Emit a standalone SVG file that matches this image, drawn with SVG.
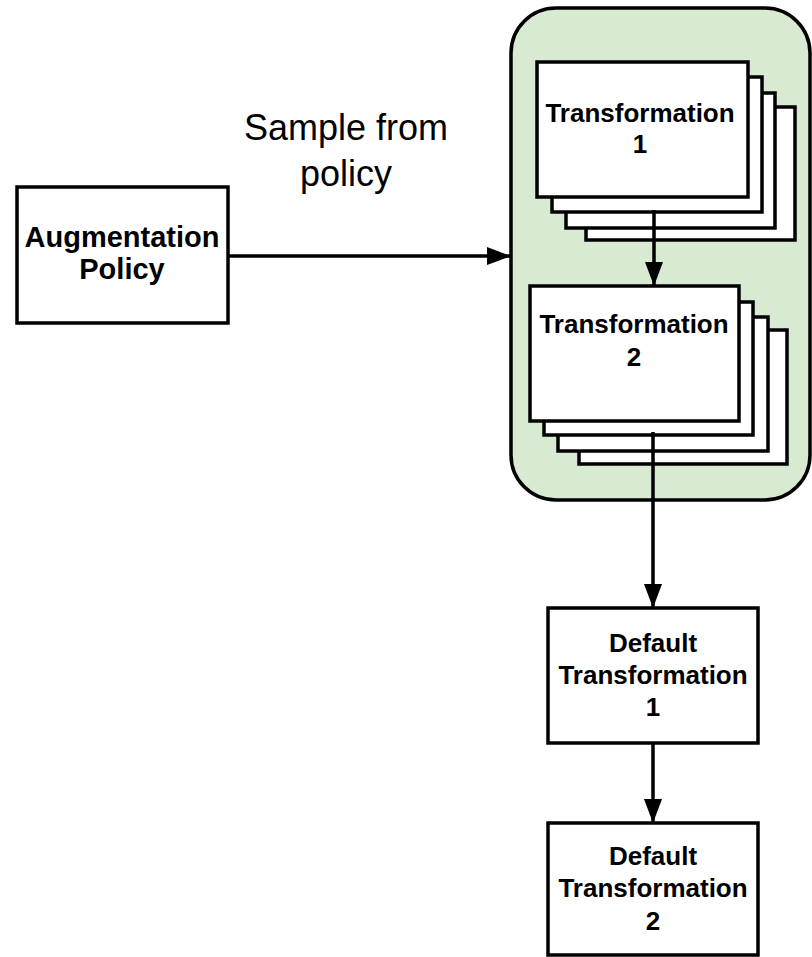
<svg xmlns="http://www.w3.org/2000/svg" width="812" height="957" viewBox="0 0 812 957">
<defs>
<marker id="arr" markerUnits="userSpaceOnUse" markerWidth="26" markerHeight="20" refX="24" refY="9" orient="auto">
<path d="M0,0 L24,9 L0,18 Z" fill="#000"/>
</marker>
<style>
.box{fill:#fff;stroke:#000;stroke-width:3.5;}
.cont{fill:#d9ead3;stroke:#000;stroke-width:3.5;}
.lbl{font-family:"Liberation Sans",Arial,sans-serif;font-weight:bold;font-size:26px;text-anchor:middle;fill:#000;}
.big{font-family:"Liberation Sans",Arial,sans-serif;font-size:36px;text-anchor:middle;fill:#000;}
.edge{stroke:#000;stroke-width:3.5;fill:none;}
</style>
</defs>
<rect width="812" height="957" fill="#fff"/>
<g id="container">
<rect class="cont" x="511" y="8" width="299" height="492" rx="45" ry="45"/>
</g>
<g id="transformation1">
<rect class="box" x="586" y="107" width="209" height="133"/>
<rect class="box" x="566" y="93" width="209" height="135"/>
<rect class="box" x="552" y="77" width="210" height="135"/>
<rect class="box" x="537" y="62" width="211" height="135"/>
<text class="lbl" x="640" y="122">Transformation</text>
<text class="lbl" x="640" y="153">1</text>
</g>
<g id="transformation2">
<rect class="box" x="579" y="330" width="208" height="134"/>
<rect class="box" x="558" y="317" width="210" height="134"/>
<rect class="box" x="544" y="302" width="209" height="133"/>
<rect class="box" x="530" y="286" width="209" height="135"/>
<text class="lbl" x="634" y="333">Transformation</text>
<text class="lbl" x="634" y="366">2</text>
</g>
<g id="augmentation">
<rect class="box" x="17" y="187" width="211" height="136"/>
<text class="lbl" x="122" y="247" style="font-size:29px">Augmentation</text>
<text class="lbl" x="122" y="279" style="font-size:29px">Policy</text>
</g>
<g id="default1">
<rect class="box" x="548" y="608" width="210" height="135"/>
<text class="lbl" x="653" y="652">Default</text>
<text class="lbl" x="653" y="684">Transformation</text>
<text class="lbl" x="653" y="716">1</text>
</g>
<g id="default2">
<rect class="box" x="548" y="823" width="210" height="132"/>
<text class="lbl" x="653" y="865">Default</text>
<text class="lbl" x="653" y="897">Transformation</text>
<text class="lbl" x="653" y="930">2</text>
</g>
<g id="connectors">
<line class="edge" x1="228" y1="256" x2="511" y2="256" marker-end="url(#arr)"/>
<line class="edge" x1="654" y1="210" x2="654" y2="286" marker-end="url(#arr)"/>
<line class="edge" x1="653" y1="432" x2="653" y2="608" marker-end="url(#arr)"/>
<line class="edge" x1="653" y1="743" x2="653" y2="823" marker-end="url(#arr)"/>
<text class="big" x="346" y="140">Sample from</text>
<text class="big" x="346" y="186">policy</text>
</g>
</svg>
